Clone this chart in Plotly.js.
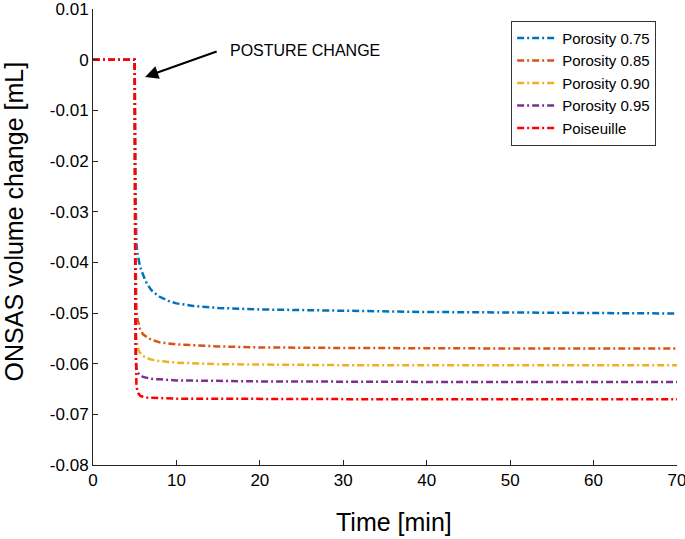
<!DOCTYPE html>
<html><head><meta charset="utf-8">
<script src="https://cdn.plot.ly/plotly-3.0.1.min.js"></script>
<style>html,body{margin:0;padding:0;background:#fff}#chart{width:685px;height:539px}</style>
</head><body><div id="chart"></div>
<script>
const seriesNames = ["Porosity 0.75","Porosity 0.85","Porosity 0.90","Porosity 0.95","Poiseuille"];
const seriesColors = ["#0072BD","#D95319","#EDB120","#7E2F8E","#FF0000"];
const tBlue = [0,5,5.05,5.1,5.2,5.3,5.45,5.6,5.8,6,6.25,6.5,7,7.5,8,9,10,12,15,20,30,40,50,60,70];
const vBlue = [0,0,-0.02,-0.033,-0.0362,-0.038,-0.0395,-0.0405,-0.0416,-0.0425,-0.0435,-0.0443,-0.0455,-0.0462,-0.0468,-0.0476,-0.0481,-0.0486,-0.049,-0.0493,-0.0496,-0.0498,-0.0499,-0.05,-0.0501];
const tOrange = [0,5,5.05,5.1,5.2,5.3,5.45,5.6,5.8,6,6.5,7,8,10,15,20,30,40,50,60,70];
const vOrange = [0,0,-0.03,-0.045,-0.049,-0.051,-0.0522,-0.053,-0.0537,-0.0542,-0.0548,-0.0553,-0.0558,-0.0562,-0.0566,-0.0568,-0.0569,-0.057,-0.057,-0.057,-0.057];
const tYellow = [0,5,5.05,5.1,5.2,5.3,5.45,5.6,5.8,6,6.5,7,8,10,15,20,30,40,50,60,70];
const vYellow = [0,0,-0.035,-0.052,-0.0552,-0.0565,-0.0573,-0.0578,-0.0582,-0.0585,-0.0589,-0.0592,-0.0595,-0.0598,-0.0601,-0.0602,-0.0603,-0.0603,-0.0603,-0.0603,-0.0603];
const tPurple = [0,5,5.05,5.1,5.2,5.3,5.45,5.6,6,7,8,10,20,30,40,50,60,70];
const vPurple = [0,0,-0.04,-0.058,-0.0608,-0.0615,-0.0619,-0.0622,-0.0626,-0.063,-0.0631,-0.0633,-0.0635,-0.0636,-0.0636,-0.0636,-0.0636,-0.0636];
const tRed = [0,5,5.1,5.2,5.3,5.45,5.7,6.5,10,20,30,40,50,60,70];
const vRed = [0,0,-0.05,-0.064,-0.0652,-0.0659,-0.0664,-0.0667,-0.0669,-0.067,-0.067,-0.067,-0.067,-0.067,-0.067];
const xTicks = [0,10,20,30,40,50,60,70];
const yTicks = [0.01,0,-0.01,-0.02,-0.03,-0.04,-0.05,-0.06,-0.07,-0.08];
const yTickText = ["0.01","0","-0.01","-0.02","-0.03","-0.04","-0.05","-0.06","-0.07","-0.08"];

const xs = [tBlue,tOrange,tYellow,tPurple,tRed];
const ys = [vBlue,vOrange,vYellow,vPurple,vRed];
const traces = seriesNames.map((n,i)=>({
  x: xs[i], y: ys[i], name: n, type:'scatter', mode:'lines',
  line:{color:seriesColors[i], width:2.5, dash:'7px,3px,2px,3px'}
}));

const font = "Liberation Sans, Arial, Helvetica, sans-serif";
const layout = {
  width:685, height:539,
  margin:{l:93, r:8, t:9, b:74},
  paper_bgcolor:'#fff', plot_bgcolor:'#fff',
  font:{family:font, color:'#000'},
  showlegend:true,
  legend:{x:0.716, y:0.974, xanchor:'left', yanchor:'top', bordercolor:'#333', borderwidth:1,
    bgcolor:'#fff', font:{size:15, family:font}, tracegroupgap:0, itemwidth:40},
  xaxis:{range:[0,70], tickvals:xTicks, ticks:'inside', ticklen:5, tickcolor:'#262626',
    showline:true, linecolor:'#262626', linewidth:1, showgrid:false, zeroline:false,
    ticklabeloverflow:'allow', tickfont:{size:17, family:font}},
  yaxis:{range:[-0.08,0.01], tickvals:yTicks, ticktext:yTickText, ticks:'inside', ticklen:5, tickcolor:'#262626',
    showline:true, linecolor:'#262626', linewidth:1, showgrid:false, zeroline:false,
    ticklabeloverflow:'allow', tickfont:{size:17, family:font}},
  annotations:[
    {x:6.25, y:-0.0034, xref:'x', yref:'y', text:'', showarrow:true, arrowhead:2, arrowsize:1.2, arrowwidth:2.2,
     arrowcolor:'#000', ax:73, ay:-26, axref:'pixel', ayref:'pixel'},
    {x:16.2, y:0.0019, xref:'x', yref:'y', text:'POSTURE CHANGE', showarrow:false, xanchor:'left', yanchor:'middle',
     font:{size:16, family:font, color:'#000'}},
    {x:0.5154, y:-0.125, xref:'paper', yref:'paper', text:'Time [min]', showarrow:false, xanchor:'center', yanchor:'middle',
     font:{size:25, family:font, color:'#000'}},
    {x:-0.1336, y:0.534, xref:'paper', yref:'paper', text:'ONSAS volume change [mL]', textangle:-90, showarrow:false,
     xanchor:'center', yanchor:'middle', font:{size:25, family:font, color:'#000'}}
  ]
};
Plotly.newPlot('chart', traces, layout, {staticPlot:true});
</script></body></html>
